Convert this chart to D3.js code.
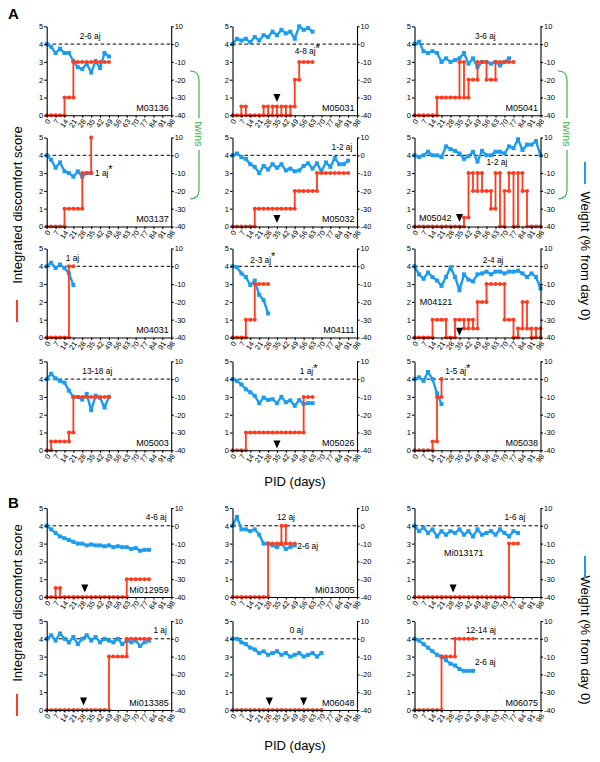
<!DOCTYPE html>
<html><head><meta charset="utf-8">
<script src="https://cdn.jsdelivr.net/npm/d3@7"></script>
<style>body{margin:0;background:#fff}svg{display:block}text{font-family:Arial,"Liberation Sans",sans-serif}</style>
</head><body><svg id="c" width="600" height="762"></svg>
<script>
// ---------- data ----------
const visitDays = [0,3.5,7,10.5,14,17.5,21,24.5,28,31.5,35,38.5,42,45.5,49,52.5,56,59.5,63,66.5,70,73.5,77,80.5,84,87.5,91,94.5,98];
const dayTicks = [0,7,14,21,28,35,42,49,56,63,70,77,84,91,98];
const scoreTicks = [0,1,2,3,4,5];
const weightTicks = [10,0,-10,-20,-30,-40];

const m03136Score = [0,0,0,0,1,1,3,3,3,3,3,3,3,3,3];
const m03136Weight = [0,-1.5,-5,-2.5,-5,-5,-9.5,-13,-14,-11,-16,-9.5,-13.5,-5,-7];
const m05031Score = [0,0,0.5,0,0,0,0,0.5,0,0.5,0,0.5,0,0.5,2,3,3,3,3];
const m05031Weight = [0,3,2,3,1,4,2,5,4,7,5,8,6,7,3,10,8,9,7];
const m05041Score = [0,0,0,0,0,1,1,1,1,1,3,1,2,2,3,3,2,2,3,3,3,3,3];
const m05041Weight = [0,1.3,-4,-5,-4,-5,-10,-8,-10,-9,-8,-5,-11,-8,-13,-10,-10,-11,-10,-12,-10,-8];
const m03137Score = [0,0,0,0,1,1,1,1,3,3,5];
const m03137Weight = [0,-2.5,-7,-4,-9,-10,-12,-9,-12,-10,-10];
const m05032Score = [0,0,0,0,0,1,1,1,1,1,1,1,1,1,2,2,2,2,2,3,3,3,3,3,3,3,3];
const m05032Weight = [0,1,-1,-2,-5,-6.5,-10,-6,-8,-5,-7,-5,-8.5,-7.5,-9,-8.5,-6,-4.5,-7.5,-4.5,-9,-4,-6.5,-1.5,-5,-5,-3];
const m05042Score = [0,0,0,0,0,0,0,0,0,0,0,0.5,3,2,3,2,2,1,3,0,2,3,0,3,2,0,0,0,0];
const m05042Weight = [0,-1,0,2,0,0,-1,5,3.5,2.5,1,-2,-0.5,2,-3.5,2.5,0,0,2,2,1,5,4,9,3,6,6,8,0];
const m04031Score = [0,0,0,0,0,4,4];
const m04031Weight = [0,2,-1,1,-1,-4,-10.5];
const m04111Score = [0,0,0,1,1,3,3,3,3];
const m04111Weight = [0,-0.5,-4,-6,-10.5,-8,-16,-19,-26.5];
const m04121Score = [0,0,0,0,1,1,1,0,0,1,1,0.5,1,0.5,2,2,3,3,3,3,1,1,0,0.5,2,0.5,0,0.5,0];
const m04121Weight = [0,-4.5,-7,-3.5,-6,-8,-11,-6,-0.5,-6,-13.5,-4.5,-7.5,-8.5,-4.5,-4,-3,-4.5,-3,-3,-4,-3,-3,-2.5,-4,-6,-4,-6,-12.5];
const m05003Score = [0,0.5,0.5,0.5,0.5,1,3,3,3,3,3,3,3,3,3];
const m05003Weight = [0,3,0.4,-1,-2,-6.5,-10,-10,-11.5,-8.3,-17.5,-9.3,-10.5,-16,-10];
const m05026Score = [0,0,0,1,1,1,1,1,1,1,1,1,1,1,1,1,3,3,3];
const m05026Weight = [0,-1,-3,-5.7,-7.4,-9.4,-13.5,-10.4,-11.7,-11.3,-13.5,-10,-13,-12,-15,-11.8,-14,-13.5,-13.5];
const m05038Score = [0,0,0,0,0.5,3,4];
const m05038Weight = [0,1,-1,4,0,-8,-14];

const mi012959Score = [0,0,0.5,0,0,0,0,0,0,0,0,0,0,0,0,0,0,0,1,1,1,1,1,1];
const mi012959Weight = [0,-2,-4,-6,-7,-8,-9,-10,-10,-11,-10.5,-11,-11,-11.5,-11,-12,-11.5,-12,-12,-13,-12.5,-14,-13.5,-13.5];
const mi013005Score = [0,0,0,0,0,0,0,0,3,3,3,4,3,3,3];
const mi013005Weight = [0,5,-2,-2,-3,-2,-5,-10,-10,-11,-12,-10,-13,-12,-11];
const mi013171Score = [0,0,0,0,0,0,0,0,0,0,0,0,0,0,0,0,0,0,0,0,0,3,3,3];
const mi013171Weight = [0,-3,-1,-4,-2,-6,-3,-5,-3,-4,-2,-5,-3,-6,-2,-5,-4,-3,-5,-2,-4,-6,-3,-4];
const mi013385Score = [0,0,0,0,0,0,0,0,0,0,0,0,0,0,3,3,3,3,4,4,4,4,4,4];
const mi013385Weight = [0,2,-1,3,0,-2,1,-3,0,2,-1,1,-2,0,-1,-2,0,-3,-1,-2,-1,-4,-2,-1];
const m06048Score = [0,0,0,0,0,0,0,0,0,0,0,0,0,0,0,0,0,0,0,0,0];
const m06048Weight = [0,0,-2,-3,-5,-6,-8,-7,-9,-8,-7,-9,-8,-10,-9,-8,-10,-9,-8,-10,-8];
const m06075Score = [0,0,0,0,0,0,3,3,3,4,4,4,4,4];
const m06075Weight = [0,-1,-3,-5,-7,-9,-10,-12,-14,-15,-17,-18,-18,-18];

const idLabels = ["M03136","M05031","M05041","M03137","M05032","M05042","M04031","M04111","M04121","M05003","M05026","M05038",
                  "Mi012959","Mi013005","Mi013171","Mi013385","M06048","M06075"];
const ajLabels = ["2-6 aj","4-8 aj","3-6 aj","1 aj","1-2 aj","1-2 aj","1 aj","2-3 aj","2-4 aj","13-18 aj","1 aj","1-5 aj",
                  "4-6 aj","12 aj","1-6 aj","1 aj","0 aj","12-14 aj"];
const ajStar = [false,true,false,true,false,false,false,true,false,false,true,true, false,false,false,false,false,false];
const extraLabels = [null,null,null,null,null,null,null,null,null,null,null,null, null,"2-6 aj",null,null,null,"2-6 aj"];
const arrowDays = [[],[35],[],[],[35],[35],[],[],[35],[],[35],[], [30],[],[30],[29],[29,56],[]];

const scores = [m03136Score,m05031Score,m05041Score,m03137Score,m05032Score,m05042Score,m04031Score,m04111Score,m04121Score,m05003Score,m05026Score,m05038Score,
  mi012959Score,mi013005Score,mi013171Score,mi013385Score,m06048Score,m06075Score];
const weights = [m03136Weight,m05031Weight,m05041Weight,m03137Weight,m05032Weight,m05042Weight,m04031Weight,m04111Weight,m04121Weight,m05003Weight,m05026Weight,m05038Weight,
  mi012959Weight,mi013005Weight,mi013171Weight,mi013385Weight,m06048Weight,m06075Weight];

// ---------- layout ----------
const colX = [46.7, 232.5, 414.5];
const colW = [124.5, 124.5, 126];
const rowY0 = [115.3, 226.5, 337.5, 450.3, 597, 710];
const PH = 89;
const ajPos = [[26,4.29],[49,3.43],[47,4.27],[38,2.84],[78,4.3],[56,3.45],[15,4.31],[14,4.2],[53,4.2],[28,4.27],[53,4.27],[24,4.27],
               [78,4.3],[35,4.3],[70,4.3],[84,4.3],[45,4.3],[40,4.3]];
const extraPos = {13:[51,2.7],17:[47,2.55]};
const idPos = {5:[3.5,0.33],8:[4,1.83],14:[23,2.3]};
const arrowLevel = [0,0.75,0,0,0.2,0.25,0,0,0.1,0,0.1,0, 0.25,0,0.25,0.25,0.25,0];

const RED = "#ff3b1e", BLUE = "#1b9cf0", GREEN = "#3cb44b";
const svg = d3.select("#c");

function drawPanel(i){
  const col = i%3, row = Math.floor(i/3);
  const w = colW[col], h = PH;
  const g = svg.append("g").attr("transform",`translate(${colX[col]},${rowY0[row]-h})`);
  const x = d3.scaleLinear().domain([0,98]).range([0,w]);
  const yS = d3.scaleLinear().domain([0,5]).range([h,0]);
  const yW = d3.scaleLinear().domain([-40,10]).range([h,0]);

  g.append("line").attr("x1",0).attr("x2",w).attr("y1",yW(0)).attr("y2",yW(0))
    .attr("stroke","#000").attr("stroke-width",1).attr("stroke-dasharray","3.5,2.5");

  const wd = weights[i].map((v,k)=>({d:visitDays[k],v}));
  g.append("path").datum(wd).attr("fill","none").attr("stroke",BLUE).attr("stroke-width",2.4)
    .attr("stroke-linejoin","round").attr("d",d3.line().x(d=>x(d.d)).y(d=>yW(d.v)));
  g.selectAll("rect.wm").data(wd).join("rect").attr("class","wm")
    .attr("x",d=>x(d.d)-2).attr("y",d=>yW(d.v)-2).attr("width",4).attr("height",4).attr("fill",BLUE);

  const sd = scores[i].map((v,k)=>({d:visitDays[k],v}));
  g.append("path").datum(sd).attr("fill","none").attr("stroke",RED).attr("stroke-width",1.8)
    .attr("d",d3.line().curve(d3.curveStepAfter).x(d=>x(d.d)).y(d=>yS(d.v)));
  const dots = [];
  sd.forEach((p,k)=>{ dots.push(p); if(k>0 && sd[k-1].v!==p.v) dots.push({d:p.d,v:sd[k-1].v}); });
  g.selectAll("circle.sm").data(dots).join("circle").attr("class","sm")
    .attr("cx",d=>x(d.d)).attr("cy",d=>yS(d.v)).attr("r",2).attr("fill",RED);

  arrowDays[i].forEach(a=>{
    const ax = x(a), ay = yS(arrowLevel[i]);
    g.append("path").attr("d",`M${ax-3.5},${ay-8}L${ax+3.5},${ay-8}L${ax},${ay}Z`).attr("fill","#000");
  });

  const ax1 = g.append("g").call(d3.axisLeft(yS).tickValues(scoreTicks).tickSize(2.5).tickSizeOuter(0).tickFormat(d=>String(d)));
  const ax2 = g.append("g").attr("transform",`translate(${w},0)`).call(d3.axisRight(yW).tickValues(weightTicks).tickSize(2.5).tickSizeOuter(0).tickFormat(d=>String(d)));
  const ax3 = g.append("g").attr("transform",`translate(0,${h})`).call(d3.axisBottom(x).tickValues(dayTicks).tickSize(2.5).tickSizeOuter(0).tickFormat(d=>String(d)));
  ax3.selectAll("text").attr("text-anchor","end").attr("dy",null).attr("y",0).attr("x",0)
    .attr("transform","translate(2,5) rotate(-55)").attr("dominant-baseline","middle");
  [ax1,ax2,ax3].forEach(a=>{a.selectAll("text").attr("font-size",7.5).attr("fill","#000").attr("font-family","Arial");
    a.selectAll("path,line").attr("stroke","#000").attr("stroke-width",1.1);});
  ax1.selectAll("text").attr("x",-3.5);
  ax2.selectAll("text").attr("x",3.5);

  const [pd,ps] = ajPos[i];
  const t = g.append("text").attr("x",x(pd)).attr("y",yS(ps)).attr("font-size",8.3).text(ajLabels[i]);
  if(ajStar[i]) t.append("tspan").attr("dy",-2.5).attr("font-size",11).text("*");
  if(extraLabels[i]){ const e = extraPos[i];
    g.append("text").attr("x",x(e[0])).attr("y",yS(e[1])).attr("font-size",8.3).text(extraLabels[i]); }
  if(idPos[i]){ g.append("text").attr("x",x(idPos[i][0])).attr("y",yS(idPos[i][1])).attr("font-size",9).text(idLabels[i]); }
  else g.append("text").attr("x",w-2.5).attr("y",h-4.5).attr("text-anchor","end").attr("font-size",9).text(idLabels[i]);
}
for(let i=0;i<18;i++) drawPanel(i);

svg.append("text").attr("x",8).attr("y",19).attr("font-size",15).attr("font-weight","bold").text("A");
svg.append("text").attr("x",8).attr("y",508).attr("font-size",15).attr("font-weight","bold").text("B");

function leftTitle(cy, dashTop){
  svg.append("text").attr("transform",`translate(17,${cy}) rotate(-90)`).attr("text-anchor","middle")
    .attr("dominant-baseline","central").attr("font-size",13).text("Integrated discomfort score");
  svg.append("line").attr("x1",17).attr("x2",17).attr("y1",dashTop).attr("y2",dashTop+22).attr("stroke",RED).attr("stroke-width",2);
}
function rightTitle(cy, dashTop){
  svg.append("text").attr("transform",`translate(585,${cy}) rotate(90)`).attr("text-anchor","middle")
    .attr("dominant-baseline","central").attr("font-size",13).text("Weight (% from day 0)");
  svg.append("line").attr("x1",585).attr("x2",585).attr("y1",dashTop).attr("y2",dashTop+22).attr("stroke",BLUE).attr("stroke-width",2);
}
leftTitle(205,300); rightTitle(256,162);
leftTitle(603,694); rightTitle(640,556);
svg.append("text").attr("x",295).attr("y",486).attr("text-anchor","middle").attr("font-size",13).text("PID (days)");
svg.append("text").attr("x",295).attr("y",750).attr("text-anchor","middle").attr("font-size",13).text("PID (days)");

function twins(xv){
  const p = `M${xv-9},71 Q${xv},71 ${xv},80 L${xv},118 M${xv},150 L${xv},190 Q${xv},199 ${xv-9},199`;
  svg.append("path").attr("d",p).attr("fill","none").attr("stroke",GREEN).attr("stroke-width",1.2);
  svg.append("text").attr("transform",`translate(${xv},134) rotate(90)`).attr("text-anchor","middle")
    .attr("dominant-baseline","central").attr("font-size",11).attr("fill",GREEN).text("twins");
}
twins(199); twins(567);
</script></body></html>
